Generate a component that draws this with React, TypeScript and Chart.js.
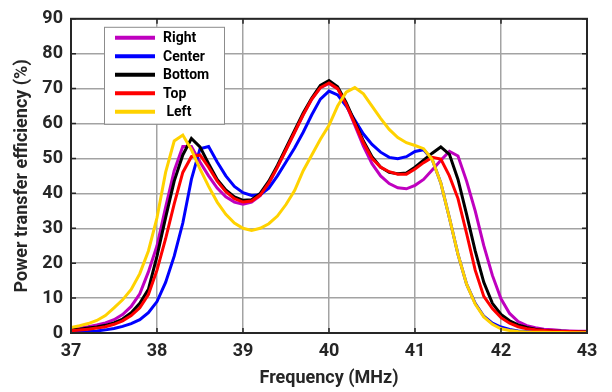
import React, { useEffect, useRef } from 'react';
import { Chart, registerables } from 'chart.js';

Chart.register(...registerables);

const frequencyMHz = [
  37.0, 37.1, 37.2, 37.3, 37.4, 37.5, 37.6, 37.7, 37.8, 37.9,
  38.0, 38.1, 38.2, 38.3, 38.4, 38.5, 38.6, 38.7, 38.8, 38.9,
  39.0, 39.1, 39.2, 39.3, 39.4, 39.5, 39.6, 39.7, 39.8, 39.9,
  40.0, 40.1, 40.2, 40.3, 40.4, 40.5, 40.6, 40.7, 40.8, 40.9,
  41.0, 41.1, 41.2, 41.3, 41.4, 41.5, 41.6, 41.7, 41.8, 41.9,
  42.0, 42.1, 42.2, 42.3, 42.4, 42.5, 42.6, 42.7, 42.8, 42.9,
  43.0,
];

const rightEff = [
  1.1, 1.4, 1.8, 2.3, 2.9, 3.8, 5.3, 7.6, 11.2, 17.5,
  25, 36, 46.5, 53.4, 53.4, 49, 45, 41.5, 39, 37.5,
  36.9, 37.5, 39.3, 42.8, 47.5, 52.5, 57.5, 62.5, 67, 70.3,
  71.5, 70, 65.5, 59.5, 53.5, 48.5, 45, 42.8, 41.6, 41.3,
  42.3, 44, 46.7, 49.5, 52, 50.7, 43.5, 35, 25, 16.5,
  9.8, 5.6, 3.3, 2.1, 1.5, 1.1, 0.9, 0.7, 0.6, 0.5,
  0.5,
];

const centerEff = [
  0.2, 0.3, 0.4, 0.6, 0.9, 1.3, 1.9, 2.7, 3.8, 5.8,
  9, 14.5, 22, 31.5, 44, 52.8, 53.4, 49, 45, 42,
  40.2, 39.4, 39.6, 41.5, 45, 49, 53, 57.5, 62.5, 67,
  69.3, 68.2, 65, 61, 57, 54, 51.8, 50.3, 49.9, 50.5,
  52, 52.5, 49.7, 43, 33, 22.5, 14, 8.5, 4.8, 2.8,
  1.7, 1.0, 0.6, 0.4, 0.3, 0.25, 0.2, 0.2, 0.15, 0.1,
  0.1,
];

const bottomEff = [
  0.9, 1.1, 1.4, 1.7, 2.2, 2.9, 4.0, 5.8, 8.5, 12.5,
  22, 33, 43.5, 51, 55.7, 53.3, 48.5, 44, 41, 39,
  38, 38.2, 40, 43.5, 48, 53, 58, 63, 67.3, 70.9,
  72.3, 70.5, 66, 60.5, 55, 50.5, 47.5, 46, 45.6, 45.8,
  47.5, 49.5, 51.5, 53.3, 51.2, 44, 34, 23.5, 14.5, 8.5,
  5.3, 3.5, 2.3, 1.6, 1.1, 0.8, 0.6, 0.5, 0.4, 0.35,
  0.3,
];

const topEff = [
  0.65, 0.85, 1.1, 1.4, 1.8, 2.5, 3.5, 5.0, 7.2, 11,
  18, 27, 37, 46, 50.5, 51, 47.5, 43.5, 40.5, 38.5,
  37.5, 37.8, 39.5, 43, 47.5, 52.5, 57.5, 62.5, 67, 70.3,
  71.6, 70, 65.5, 60, 54.5, 50, 47.5, 46.2, 45.5, 45.5,
  47, 48.8, 50.3, 49.8, 45, 38.5, 28.5, 18, 10.5, 7,
  4.4, 2.8, 1.8, 1.2, 0.9, 0.7, 0.55, 0.45, 0.4, 0.35,
  0.3,
];

const leftEff = [
  1.6, 2.1, 2.7, 3.6, 5.0, 7.2, 9.5, 12.5, 17, 23.5,
  33, 46, 55, 56.7, 52.5, 47, 42, 37.5, 34, 31.5,
  30, 29.4, 30, 31.3, 33.5, 36.8, 40.8, 46.5, 51, 55.5,
  59.5, 65, 69, 70.3, 68.5, 65, 61.5, 58.3, 56, 54.5,
  53.7, 52.8, 49.7, 43, 33, 22.5, 14, 8.3, 4.6, 2.5,
  1.2, 0.7, 0.45, 0.3, 0.25, 0.2, 0.15, 0.15, 0.1, 0.1,
  0.1,
];

const seriesNames = ['Right', 'Center', 'Bottom', 'Top', ' Left'];
const seriesValues = [rightEff, centerEff, bottomEff, topEff, leftEff];
const seriesColors = ['#BF00BF', '#0000FF', '#000000', '#FF0000', '#FFD200'];
const seriesDrawOrder = [4, 3, 2, 1, 0];

const xTicks = [37, 38, 39, 40, 41, 42, 43];
const yTicks = [0, 10, 20, 30, 40, 50, 60, 70, 80, 90];

const FONT = 'Roboto, "Open Sans", "DejaVu Sans", sans-serif';
const TEXT = '#262626';

const framePlugin = {
  id: 'frameTicks',
  afterDatasetsDraw(chart: any) {
    const { ctx, chartArea } = chart;
    const { left, right, top, bottom } = chartArea;
    const xs = chart.scales.x;
    const ys = chart.scales.y;
    ctx.save();
    ctx.strokeStyle = TEXT;
    ctx.lineWidth = 1.5;
    const tl = 5;
    ctx.beginPath();
    for (const v of xTicks) {
      const px = xs.getPixelForValue(v);
      ctx.moveTo(px, bottom);
      ctx.lineTo(px, bottom - tl);
      ctx.moveTo(px, top);
      ctx.lineTo(px, top + tl);
    }
    for (const v of yTicks) {
      const py = ys.getPixelForValue(v);
      ctx.moveTo(left, py);
      ctx.lineTo(left + tl, py);
      ctx.moveTo(right, py);
      ctx.lineTo(right - tl, py);
    }
    ctx.stroke();
    ctx.lineWidth = 2;
    ctx.strokeRect(left, top, right - left, bottom - top);
    ctx.restore();
  },
};

const legendPlugin = {
  id: 'insideLegend',
  afterDraw(chart: any) {
    const { ctx, chartArea } = chart;
    const bx = chartArea.left + 33;
    const by = chartArea.top + 8;
    const bw = 120;
    const bh = 97;
    ctx.save();
    ctx.fillStyle = '#ffffff';
    ctx.fillRect(bx, by, bw, bh);
    ctx.strokeStyle = '#8c8c8c';
    ctx.lineWidth = 1;
    ctx.strokeRect(bx + 0.5, by + 0.5, bw, bh);
    ctx.font = `bold 14px ${FONT}`;
    ctx.textBaseline = 'middle';
    ctx.textAlign = 'left';
    seriesNames.forEach((name, i) => {
      const ry = by + 11 + i * 18.5;
      ctx.strokeStyle = seriesColors[i];
      ctx.lineWidth = 4;
      ctx.beginPath();
      ctx.moveTo(bx + 11, ry);
      ctx.lineTo(bx + 51, ry);
      ctx.stroke();
      ctx.fillStyle = '#000000';
      ctx.fillText(name, bx + 59, ry + 1);
    });
    ctx.restore();
  },
};

export default function App() {
  const canvasRef = useRef<HTMLCanvasElement | null>(null);

  useEffect(() => {
    const canvas = canvasRef.current;
    if (!canvas) return;
    const datasets = seriesNames.map((name, i) => ({
      label: name.trim(),
      data: frequencyMHz.map((f, k) => ({ x: f, y: seriesValues[i][k] })),
      borderColor: seriesColors[i],
      backgroundColor: seriesColors[i],
      borderWidth: 3,
      pointRadius: 0,
      tension: 0,
      fill: false,
      order: seriesDrawOrder[i],
    }));
    const chart = new Chart(canvas, {
      type: 'line',
      data: { datasets },
      plugins: [framePlugin, legendPlugin],
      options: {
        animation: false,
        responsive: false,
        maintainAspectRatio: false,
        layout: { padding: { top: 14, right: 25, left: 0, bottom: 0 } },
        plugins: {
          legend: { display: false },
          tooltip: { enabled: false },
          title: { display: false },
        },
        scales: {
          x: {
            type: 'linear',
            min: 37,
            max: 43,
            afterFit: (s: any) => { s.height = 59; },
            afterBuildTicks: (s: any) => { s.ticks = xTicks.map((v) => ({ value: v })); },
            ticks: {
              stepSize: 1,
              color: TEXT,
              padding: 8,
              font: { family: FONT, size: 18, weight: 'bold' },
            },
            grid: { color: '#a3a3a3', lineWidth: 1.5, drawTicks: false },
            border: { display: false },
            title: {
              display: true,
              text: 'Frequency (MHz)',
              color: TEXT,
              font: { family: FONT, size: 18, weight: 'bold' },
              padding: { top: 0, bottom: 3 },
            },
          },
          y: {
            type: 'linear',
            min: 0,
            max: 90,
            afterFit: (s: any) => { s.width = 71; },
            afterBuildTicks: (s: any) => { s.ticks = yTicks.map((v) => ({ value: v })); },
            ticks: {
              stepSize: 10,
              color: TEXT,
              padding: 8,
              font: { family: FONT, size: 18, weight: 'bold' },
            },
            grid: { color: '#a3a3a3', lineWidth: 1.5, drawTicks: false },
            border: { display: false },
            title: {
              display: true,
              text: 'Power transfer efficiency (%)',
              color: TEXT,
              font: { family: FONT, size: 18, weight: 'bold' },
              padding: { top: 12, bottom: 0 },
            },
          },
        },
      },
    });
    return () => chart.destroy();
  }, []);

  return (
    <div style={{ position: 'fixed', left: 0, top: 0, width: 612, height: 392, background: '#fff' }}>
      <canvas ref={canvasRef} width={612} height={392} style={{ display: 'block', width: 612, height: 392 }} />
    </div>
  );
}
